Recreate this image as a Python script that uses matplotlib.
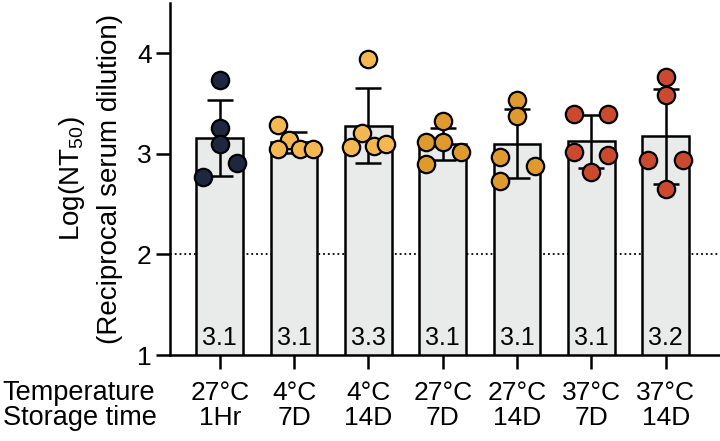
import numpy as np
import matplotlib
matplotlib.use('Agg')
import matplotlib.pyplot as plt
import matplotlib.transforms as mtransforms

plt.rcParams['font.family'] = ['Liberation Sans', 'DejaVu Sans']
plt.rcParams['mathtext.fontset'] = 'custom'
plt.rcParams['mathtext.rm'] = 'Liberation Sans'
plt.rcParams['mathtext.it'] = 'Liberation Sans'

# data (log NT50 per animal)
temperatures = ['27°C', '4°C', '4°C', '27°C', '27°C', '37°C', '37°C']
storage_times = ['1Hr', '7D', '14D', '7D', '14D', '7D', '14D']
values = [
    [3.74, 3.26, 3.10, 2.91, 2.77],
    [3.29, 3.14, 3.05, 3.05, 3.05],
    [3.94, 3.21, 3.07, 3.08, 3.10],
    [3.33, 3.12, 3.12, 3.02, 2.90],
    [3.54, 3.38, 2.97, 2.88, 2.73],
    [3.40, 3.40, 3.02, 2.99, 2.82],
    [3.76, 3.59, 2.94, 2.94, 2.65],
]
jitter = [
    [0, 0, 0, 0.23, -0.22],
    [-0.22, -0.07, -0.22, 0.08, 0.25],
    [0, -0.08, -0.23, 0.08, 0.24],
    [0, -0.22, 0, 0.24, -0.23],
    [0, 0, -0.23, 0.24, -0.23],
    [-0.24, 0.23, -0.24, 0.23, 0],
    [0, 0, -0.24, 0.23, 0],
]
mean_labels = ['3.1', '3.1', '3.3', '3.1', '3.1', '3.1', '3.2']
point_colors = ['#1d2840', '#f5b752', '#f5b752', '#df9a2e', '#df9a2e', '#cb4a2f', '#cb4a2f']
limit_of_detection = 2

means = [np.mean(v) for v in values]
sds = [np.std(v, ddof=1) for v in values]
x = np.arange(len(values))

fig = plt.figure(figsize=(7.2, 4.41), dpi=100)
ax = fig.add_axes([0.236, 0.195, 0.764, 0.798])

ax.axhline(limit_of_detection, color='black', linestyle=':', linewidth=1.3, zorder=0)
ax.bar(x, means, width=0.63, bottom=0, color='#e9ebea', edgecolor='black',
       linewidth=1.8, zorder=2)
ax.errorbar(x, means, yerr=sds, fmt='none', ecolor='black', elinewidth=1.8,
            capsize=9.5, capthick=1.8, zorder=3)
for i, (vals, jit) in enumerate(zip(values, jitter)):
    ax.plot(i + np.array(jit), vals, 'o', markersize=12.5, markerfacecolor=point_colors[i],
            markeredgecolor='black', markeredgewidth=1.6, linestyle='none', zorder=4)
    ax.text(i, 1.1, mean_labels[i], ha='center', va='baseline', fontsize=18, zorder=5)

ax.set_xlim(-0.67, 6.73)
ax.set_ylim(1, 4.5)
ax.set_yticks([1, 2, 3, 4])
ax.set_xticks(x)
ax.set_xticklabels([])
for s in ['top', 'right']:
    ax.spines[s].set_visible(False)
for s in ['left', 'bottom']:
    ax.spines[s].set_linewidth(1.8)
ax.tick_params(axis='both', length=10, width=1.8, labelsize=19)
ax.tick_params(axis='y', pad=3)
ax.set_ylabel('Log(NT$_{50}$)\n(Reciprocal serum dilution)', fontsize=20,
              labelpad=10, linespacing=1.5)

# two rows of category labels below the axis
trans = mtransforms.blended_transform_factory(ax.transData, fig.transFigure)
for i in x:
    ax.text(i, 0.093, temperatures[i], transform=trans, ha='center', va='baseline', fontsize=19)
    ax.text(i, 0.036, storage_times[i], transform=trans, ha='center', va='baseline', fontsize=19)
fig.text(0.003, 0.093, 'Temperature', ha='left', va='baseline', fontsize=19.5)
fig.text(0.004, 0.036, 'Storage time', ha='left', va='baseline', fontsize=19.5)

fig.savefig('out.png', dpi=100)
